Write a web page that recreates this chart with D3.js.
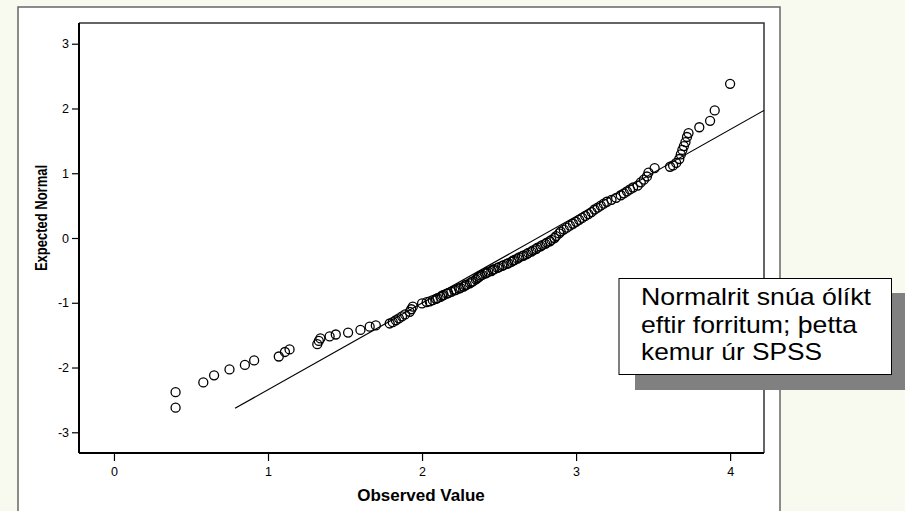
<!DOCTYPE html>
<html>
<head>
<meta charset="utf-8">
<script src="https://cdn.jsdelivr.net/npm/d3@7"></script>
<style>
  body { margin: 0; background: #f8faf0; }
  svg { display: block; font-family: Arial, "Liberation Sans", sans-serif; -webkit-font-smoothing: antialiased; }
</style>
</head>
<body>
<svg id="chart" width="905" height="511"></svg>
<script>
const observed = [
  0.40, 0.40, 0.58, 0.65, 0.75, 0.85, 0.91, 1.07, 1.11, 1.14,
  1.32, 1.33, 1.34, 1.40, 1.44, 1.52, 1.60, 1.66, 1.70, 1.79,
  1.81, 1.83, 1.85, 1.87, 1.89, 1.92, 1.93, 1.94,
  2.00, 2.03, 2.05, 2.07, 2.09, 2.10, 2.12, 2.13, 2.14, 2.16,
  2.17, 2.19, 2.21, 2.22, 2.24, 2.25, 2.27, 2.28, 2.29, 2.31,
  2.32, 2.33, 2.35, 2.36, 2.37, 2.38, 2.39, 2.41, 2.42, 2.43,
  2.45, 2.46, 2.47, 2.49, 2.50, 2.52, 2.53, 2.55, 2.56, 2.58,
  2.59, 2.60, 2.62, 2.63, 2.65, 2.66, 2.68, 2.69, 2.71, 2.72,
  2.74, 2.75, 2.77, 2.78, 2.80, 2.81, 2.83, 2.84, 2.86, 2.87,
  2.89, 2.90, 2.92, 2.94, 2.96, 2.98, 3.00, 3.02, 3.04, 3.06,
  3.08, 3.10, 3.12, 3.14, 3.16, 3.18, 3.20, 3.23, 3.26, 3.29,
  3.31, 3.33, 3.35, 3.37, 3.40, 3.42, 3.44, 3.46, 3.47, 3.51,
  3.61, 3.63, 3.65, 3.67, 3.68, 3.69, 3.70, 3.71, 3.72, 3.73,
  3.80, 3.87, 3.90, 4.00
];
const expected = [
  -2.62, -2.38, -2.23, -2.12, -2.03, -1.96, -1.89, -1.83, -1.76, -1.72,
  -1.64, -1.59, -1.55, -1.52, -1.49, -1.46, -1.42, -1.37, -1.35, -1.32,
  -1.30, -1.27, -1.24, -1.21, -1.18, -1.14, -1.10, -1.06,
  -1.01, -0.99, -0.98, -0.96, -0.94, -0.93, -0.91, -0.89, -0.88, -0.86,
  -0.85, -0.83, -0.81, -0.80, -0.78, -0.77, -0.75, -0.73, -0.72, -0.70,
  -0.68, -0.67, -0.64, -0.62, -0.60, -0.58, -0.57, -0.55, -0.54, -0.52,
  -0.51, -0.49, -0.48, -0.46, -0.45, -0.43, -0.42, -0.40, -0.39, -0.37,
  -0.35, -0.34, -0.32, -0.30, -0.28, -0.27, -0.25, -0.23, -0.21, -0.19,
  -0.17, -0.15, -0.13, -0.11, -0.09, -0.07, -0.05, -0.03, 0.00, 0.03,
  0.07, 0.10, 0.13, 0.16, 0.19, 0.22, 0.25, 0.28, 0.31, 0.34,
  0.37, 0.40, 0.44, 0.47, 0.50, 0.53, 0.56, 0.59, 0.62, 0.66,
  0.69, 0.72, 0.75, 0.78, 0.81, 0.86, 0.90, 0.95, 1.01, 1.08,
  1.10, 1.12, 1.16, 1.22, 1.29, 1.36, 1.42, 1.48, 1.56, 1.62,
  1.71, 1.81, 1.97, 2.38
];
// reference line end points
const lineX = [0.786, 4.22];
const lineY = [-2.63, 1.97];

const xTicks = [0, 1, 2, 3, 4];
const yTicks = [-3, -2, -1, 0, 1, 2, 3];
const noteLines = ['Normalrit snúa ólíkt', 'eftir forritum; þetta', 'kemur úr SPSS'];
const noteWidths = [230, 216, 181];

const svg = d3.select('#chart');
const plot = { left: 79, top: 23, right: 764, bottom: 453 };

const x = d3.scaleLinear().domain([-0.227, 4.22]).range([plot.left, plot.right]);
const y = d3.scaleLinear().domain([-3.32, 3.32]).range([plot.bottom, plot.top]);

// outer white frame
svg.append('rect')
  .attr('x', 18).attr('y', 7).attr('width', 762).attr('height', 520)
  .attr('fill', '#fff').attr('stroke', '#666').attr('stroke-width', 1.5);

// plot box: top and right sides
svg.append('path')
  .attr('d', `M${plot.left},${plot.top}H${plot.right}V${plot.bottom}`)
  .attr('fill', 'none').attr('stroke', '#333').attr('stroke-width', 1.5);

const xAxis = svg.append('g')
  .attr('transform', `translate(0,${plot.bottom})`)
  .call(d3.axisBottom(x).tickValues(xTicks).tickSize(8).tickPadding(6).tickFormat(d => String(d)));
const yAxis = svg.append('g')
  .attr('transform', `translate(${plot.left},0)`)
  .call(d3.axisLeft(y).tickValues(yTicks).tickSize(7).tickPadding(3).tickFormat(d => String(d)));

[xAxis, yAxis].forEach(g => {
  g.select('.domain').attr('stroke', '#000').attr('stroke-width', 2);
  g.selectAll('.tick line').attr('stroke', '#000').attr('stroke-width', 1.2);
  g.selectAll('.tick text').attr('font-size', 12.5).attr('fill', '#000')
    .attr('font-family', 'Arial, "Liberation Sans", sans-serif');
});
xAxis.select('.domain').attr('d', `M${plot.left},0H${plot.right}`);
yAxis.select('.domain').attr('d', `M0,${plot.top}V${plot.bottom}`);

// reference line
svg.append('line')
  .attr('x1', x(lineX[0])).attr('y1', y(lineY[0]))
  .attr('x2', x(lineX[1])).attr('y2', y(lineY[1]))
  .attr('stroke', '#000').attr('stroke-width', 1.2);

// points
svg.append('g')
  .selectAll('circle')
  .data(observed.map((d, i) => [d, expected[i]]))
  .enter()
  .append('circle')
  .attr('cx', d => x(d[0]))
  .attr('cy', d => y(d[1]))
  .attr('r', 4.5)
  .attr('fill', 'none')
  .attr('stroke', '#000')
  .attr('stroke-width', 1.3);

// axis titles
svg.append('text')
  .attr('x', 421).attr('y', 501)
  .attr('text-anchor', 'middle')
  .attr('font-size', 17).attr('font-weight', 'bold')
  .text('Observed Value');
svg.append('text')
  .attr('transform', 'translate(46.5,218) scale(1.25,1) rotate(-90)')
  .attr('text-anchor', 'middle')
  .attr('font-size', 13).attr('font-weight', 'bold')
  .text('Expected Normal');

// annotation box with shadow
svg.append('rect')
  .attr('x', 635).attr('y', 293).attr('width', 280).attr('height', 97)
  .attr('fill', '#808080');
svg.append('rect')
  .attr('x', 619).attr('y', 278.5).attr('width', 272.5).attr('height', 96)
  .attr('fill', '#fff').attr('stroke', '#000').attr('stroke-width', 1);
svg.append('g')
  .selectAll('text')
  .data(noteLines)
  .enter()
  .append('text')
  .attr('x', 641)
  .attr('y', (d, i) => 305 + i * 27.5)
  .attr('font-size', 24)
  .attr('textLength', (d, i) => noteWidths[i])
  .attr('lengthAdjust', 'spacingAndGlyphs')
  .text(d => d);
</script>
</body>
</html>
